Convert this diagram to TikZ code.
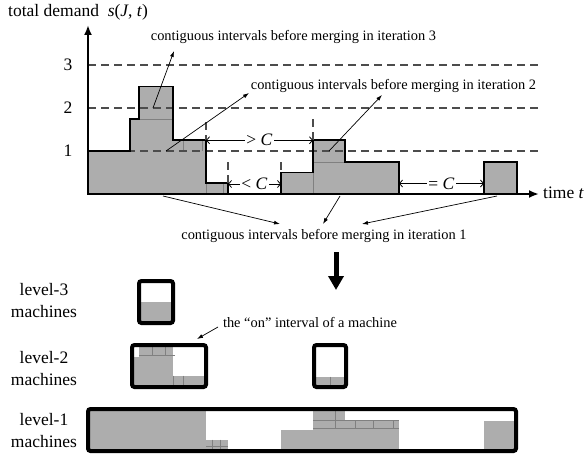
\documentclass[tikz,border=0pt]{standalone}
\usepackage{fontspec}
\setmainfont{Liberation Serif}
\usetikzlibrary{arrows.meta}

\begin{document}
\begin{tikzpicture}[x=1pt,y=-1pt,
  block/.style={fill=black!32},
  tile/.style={draw=black!50,line width=0.4pt},
  outline/.style={line width=1.8pt,line join=miter},
  levelline/.style={draw=black!70,line width=1.1pt,dash pattern=on 8pt off 5pt},
  note/.style={font=\fontsize{14.4}{16}\selectfont,inner sep=1pt},
  biglabel/.style={font=\fontsize{17.5}{22}\selectfont,align=center,inner sep=0pt},
  dimlabel/.style={font=\fontsize{17.5}{20}\selectfont,fill=white,inner sep=1.5pt},
  pointer/.style={-{Latex[length=6pt,width=4pt]},line width=0.7pt},
  dim/.style={{Straight Barb[length=3pt,width=7pt]}-{Straight Barb[length=3pt,width=7pt]},line width=0.8pt},
  machine/.style={line width=4pt,rounded corners=2.5pt}
]
\useasboundingbox (0,0) rectangle (585,460);

% ---------- total demand profile ----------
\fill[block] (88,194) -- (88,151) -- (130,151) -- (130,118.75) -- (139,118.75) -- (139,86.5)
  -- (173,86.5) -- (173,140.25) -- (206,140.25) -- (206,183.25) -- (228,183.25) -- (228,194) -- cycle;
\fill[block] (281,194) -- (281,172.5) -- (313,172.5) -- (313,140.25) -- (345,140.25)
  -- (345,161.75) -- (399,161.75) -- (399,194) -- cycle;
\fill[block] (484,194) -- (484,161.75) -- (517,161.75) -- (517,194) -- cycle;

% job tiles inside the profile
\draw[tile] (139,118.75) -- (173,118.75);
\draw[tile] (183,140.25) -- (183,151) (202,140.25) -- (202,151);
\draw[tile] (206,183.25) -- (206,194) (223,183.25) -- (223,194);
\draw[tile] (313,172.5) -- (313,194) (313,161.75) -- (345,161.75);

% demand levels
\draw[levelline] (88,151) -- (538,151);
\draw[levelline] (88,108) -- (538,108);
\draw[levelline] (88,65) -- (538,65);

% outline of the profile
\draw[outline] (88,151) -- (130,151) -- (130,118.75) -- (139,118.75) -- (139,86.5) -- (173,86.5)
  -- (173,140.25) -- (206,140.25) -- (206,183.25) -- (228,183.25) -- (228,194);
\draw[outline] (281,194) -- (281,172.5) -- (313,172.5) -- (313,140.25) -- (345,140.25)
  -- (345,161.75) -- (399,161.75) -- (399,194);
\draw[outline] (484,194) -- (484,161.75) -- (517,161.75) -- (517,194);

% gap markers
\draw[levelline] (206,122) -- (206,140.25);
\draw[levelline] (313,119) -- (313,140.25);
\draw[levelline] (228,162) -- (228,183.25);
\draw[levelline] (281,162) -- (281,172.5);

\coordinate (gA) at (206,140.25);
\coordinate (gB) at (313,140.25);
\coordinate (gC) at (228,184);
\coordinate (gD) at (281,184);
\coordinate (gE) at (399,183.5);
\coordinate (gF) at (484,183.5);
\draw[dim] (gA) -- (gB) node[dimlabel,midway] (gtC) {> \textit{C}};
\draw[dim] (gC) -- (gD) node[dimlabel,midway] (ltC) {< \textit{C}};
\draw[dim] (gE) -- (gF) node[dimlabel,midway] (eqC) {= \textit{C}};

% axes
\coordinate (origin) at (88,194);
\coordinate (ytip) at (88,25);
\coordinate (xstart) at (87,194);
\coordinate (xtip) at (539,194);
\draw[line width=2.2pt,-{Latex[length=10pt,width=8pt]}] (xstart) -- (xtip);
\draw[line width=2.2pt,-{Latex[length=10pt,width=8pt]}] (origin) -- (ytip);

\node[biglabel,anchor=west] (ylab) at (8,12) {total demand\ \ \textit{s}(\textit{J}, \textit{t})};
\node[biglabel,anchor=west] (xlab) at (543,193) {time \textit{t}};
\node[biglabel] (tick3) at (68,65) {3};
\node[biglabel] (tick2) at (68,108) {2};
\node[biglabel] (tick1) at (68,151) {1};

% annotations
\node[note] (it3) at (293.5,37) {contiguous intervals before merging in iteration 3};
\node[note] (it2) at (393.5,86) {contiguous intervals before merging in iteration 2};
\node[note] (it1) at (324,236) {contiguous intervals before merging in iteration 1};
\node[note] (onlab) at (310,322) {the “on” interval of a machine};

\coordinate (p3a) at (153,108);  \coordinate (q3a) at (174,51);
\coordinate (p2a) at (166,151);  \coordinate (q2a) at (249,93);
\coordinate (p2b) at (329,151);  \coordinate (q2b) at (382,95);
\coordinate (p1a) at (163,196);  \coordinate (q1a) at (280,224);
\coordinate (p1b) at (340,196);  \coordinate (q1b) at (323,224);
\coordinate (p1c) at (497,196);  \coordinate (q1c) at (362,224);
\coordinate (pon) at (218,327);  \coordinate (qon) at (197,339);
\draw[pointer] (p3a) -- (q3a);
\draw[pointer] (p2a) -- (q2a);
\draw[pointer] (p2b) -- (q2b);
\draw[pointer] (p1a) -- (q1a);
\draw[pointer] (p1b) -- (q1b);
\draw[pointer] (p1c) -- (q1c);
\draw[pointer] (pon) -- (qon);

% transformation arrow
\coordinate (bigfrom) at (336,252);
\coordinate (bigto) at (336,290);
\draw[line width=5pt,-{Triangle[length=14pt,width=15pt]}] (bigfrom) -- (bigto);

% ---------- machines ----------
\node[biglabel] (lv3) at (44,301) {level-3\\machines};
\node[biglabel] (lv2) at (44,369) {level-2\\machines};
\node[biglabel] (lv1) at (44,430.5) {level-1\\machines};

% level-3
\begin{scope}
  \clip (141,283) rectangle (171,321);
  \fill[block] (139,302) rectangle (173,321);
\end{scope}
\draw[machine] (139,281) rectangle (173,323);

% level-2, first interval
\begin{scope}
  \clip (134,347) rectangle (204,385);
  \fill[block] (130,356.5) rectangle (139,385);
  \fill[block] (139,347) rectangle (173,385);
  \fill[block] (173,375.5) rectangle (206,385);
  \draw[tile] (139,355) -- (175,355) (152,347) -- (152,355) (165,347) -- (165,355);
  \draw[tile] (173,375.5) -- (173,385) (183,375.5) -- (183,385);
\end{scope}
\draw[machine] (132,345) rectangle (206,387);

% level-2, second interval
\begin{scope}
  \clip (316,347) rectangle (344,385);
  \fill[block] (313,376.5) rectangle (345,385);
  \draw[tile] (330,376.5) -- (330,385);
\end{scope}
\draw[machine] (314,345) rectangle (346,387);

% level-1
\begin{scope}
  \clip (90,411) rectangle (514,449);
  \fill[block] (88,411) rectangle (206,449);
  \fill[block] (206,439.5) rectangle (228,449);
  \fill[block] (281,430) rectangle (313,449);
  \fill[block] (313,411) rectangle (345,449);
  \fill[block] (345,420.5) rectangle (399,449);
  \fill[block] (484,420.5) rectangle (517,449);
  \draw[tile] (206,446) -- (228,446) (212,439.5) -- (212,449) (220,439.5) -- (220,449);
  \draw[tile] (313,420.5) -- (399,420.5) (313,428) -- (399,428);
  \draw[tile] (335,411) -- (335,428) (355,420.5) -- (355,428) (373,420.5) -- (373,428) (393,420.5) -- (393,428);
\end{scope}
\draw[machine] (88,409) rectangle (516,451);
\end{tikzpicture}
\end{document}
